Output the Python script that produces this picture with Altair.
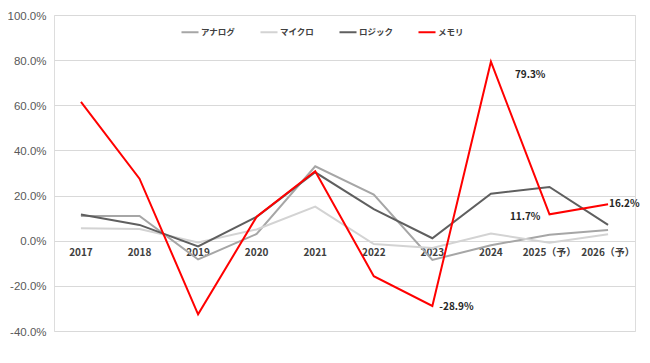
import altair as alt
import pandas as pd

years = ["2017", "2018", "2019", "2020", "2021", "2022", "2023", "2024", "2025（予）", "2026（予）"]
series_names = ["アナログ", "マイクロ", "ロジック", "メモリ"]
analog = [11.0, 11.0, -8.3, 3.0, 33.0, 20.4, -8.5, -2.0, 2.6, 4.8]
micro = [5.5, 5.2, -0.8, 5.0, 15.1, -1.5, -3.2, 3.2, -0.9, 2.9]
logic = [11.6, 7.0, -2.5, 10.6, 30.3, 14.0, 1.1, 20.8, 23.8, 7.0]
memory = [61.5, 27.5, -32.6, 10.6, 30.8, -15.7, -28.9, 79.3, 11.7, 16.2]
colors = ["#a6a6a6", "#d3d3d3", "#5f5f5f", "#ff0000"]

rows = []
for name, vals in zip(series_names, [analog, micro, logic, memory]):
    for y, v in zip(years, vals):
        rows.append({"series": name, "year": y, "value": v / 100.0})
df = pd.DataFrame(rows)
cats = pd.DataFrame({"year": years, "zero": [0.0] * len(years)})

FONT = "Noto Sans CJK JP"
xscale = alt.Scale(type="point", domain=years, padding=0.46)
yscale = alt.Scale(domain=[-0.4, 1.0], nice=False, zero=False)

base = alt.Chart(df)

lines = base.mark_line(strokeWidth=2).encode(
    x=alt.X("year:N", scale=xscale, axis=None),
    y=alt.Y("value:Q", scale=yscale,
            axis=alt.Axis(format=".1%", values=[-0.4, -0.2, 0, 0.2, 0.4, 0.6, 0.8, 1.0],
                          title=None, domain=False, ticks=False, grid=True,
                          gridColor="#d9d9d9", gridWidth=1, labelColor="#595959",
                          labelFontSize=11.5, labelFont="Liberation Sans", labelPadding=8,
                          labelBaseline="alphabetic", labelOffset=4)),
    color=alt.Color("series:N",
                    scale=alt.Scale(domain=series_names, range=colors),
                    legend=alt.Legend(title=None, orient="none", direction="horizontal",
                                      legendX=126, legendY=7, symbolType="stroke",
                                      symbolSize=290, symbolStrokeWidth=2, labelOffset=1,
                                      columnPadding=20, labelFont=FONT, labelFontSize=8.5,
                                      labelFontWeight="bold", labelColor="#404040")),
    order=alt.Order("order:Q"),
).transform_calculate(
    order="indexof(['アナログ','マイクロ','ロジック','メモリ'], datum.series)"
)

xlabels = alt.Chart(cats).mark_text(dy=12, font=FONT, fontSize=10, fontWeight="bold",
                                     color="#404040").encode(
    x=alt.X("year:N", scale=xscale, axis=None),
    y=alt.Y("zero:Q", scale=yscale),
    text="year:N",
)

def label(year, align, dx, dy):
    return base.transform_filter(
        (alt.datum.series == "メモリ") & (alt.datum.year == year)
    ).mark_text(align=align, dx=dx, dy=dy, font=FONT, fontSize=10, fontWeight="bold",
                color="#262626").encode(
        x=alt.X("year:N", scale=xscale, axis=None),
        y=alt.Y("value:Q", scale=yscale),
        text=alt.Text("value:Q", format=".1%"),
    )

labels = [
    label("2024", "left", 24, 13),
    label("2023", "left", 7, 1),
    label("2025（予）", "right", -9, 3),
    label("2026（予）", "left", 1, 0),
]

chart = alt.layer(xlabels, lines, *labels).properties(
    width=581, height=316,
    padding={"left": 46, "top": 7, "right": 7, "bottom": 20},
    autosize=alt.AutoSizeParams(type="none"),
    background="white",
).configure_view(stroke=None).configure(
    locale={"number": {"decimal": ".", "thousands": ",", "grouping": [3],
                       "currency": ["$", ""], "minus": "-"}}
)

chart.save("out.html", embed_options={"renderer": "svg", "actions": False})
